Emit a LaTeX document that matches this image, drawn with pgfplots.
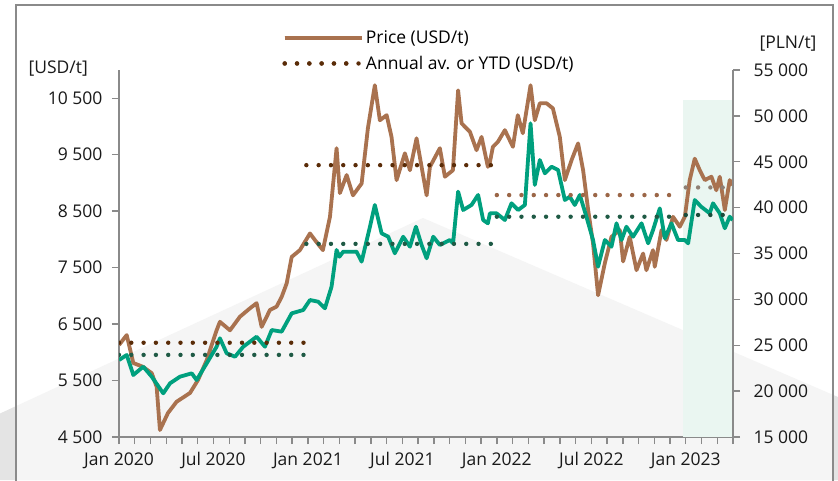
\documentclass[border=0pt]{standalone}
\usepackage{fontspec}
\setmainfont{Open Sans}
\usepackage{pgfplots}
\pgfplotsset{compat=1.18}

\definecolor{pricebrown}{HTML}{A9724F}
\definecolor{plngreen}{HTML}{00A07E}
\definecolor{dotbrown}{HTML}{5A2C08}
\definecolor{dotbrown22}{HTML}{9B6647}
\definecolor{dotgrey}{HTML}{8F8074}
\definecolor{dotgreen}{HTML}{1F5A45}
\definecolor{shade}{HTML}{EAF6F1}
\definecolor{axisgrey}{HTML}{8A8A8A}
\definecolor{bgdark}{HTML}{E4E4E4}

\newcommand{\fs}{\fontsize{17.5}{21}\selectfont}

\pgfplotsset{
  base/.style={
    scale only axis, width=614pt, height=367pt,
    at={(119pt,-437pt)}, anchor=south west,
    xmin=0, xmax=39,
    tick align=outside,
    major tick length=7pt, minor tick length=7pt,
    tick style={line width=1.4pt, axisgrey},
    axis line style={line width=1.4pt, axisgrey},
    tick label style={font=\fs, text=black!90},
    xticklabel style={yshift=-5pt},
    scaled y ticks=false,
    /pgf/number format/fixed,
    /pgf/number format/1000 sep={\ },
    /pgf/number format/assume math mode=true,
  },
  price/.style={pricebrown, line width=3.8pt, line join=round},
  pln/.style={plngreen, line width=3.8pt, line join=round},
  dots/.style={line width=4.4pt, line cap=round, dash pattern=on 0pt off 12.3pt},
}

\begin{document}
\begin{tikzpicture}
\useasboundingbox (0,0) rectangle (838pt,-480pt);
% background shape and frame
\fill[bgdark] (0pt,-413.5pt) -- (423pt,-218pt) -- (838pt,-397pt) -- (838pt,-480pt) -- (0pt,-480pt) -- cycle;
\fill[white, opacity=0.63] (16pt,-5pt) rectangle (833pt,-480pt);
\draw[axisgrey, line width=1.2pt] (16pt,-490pt) -- (16pt,-5pt) -- (833pt,-5pt) -- (833pt,-490pt);

% left axis: price in USD/t
\begin{axis}[base,
  axis x line*=bottom, axis y line*=left,
  ymin=4500, ymax=11000, ytick={4500,5500,...,10500},
  yticklabel style={xshift=-6pt},
  xtick={0,6,...,36},
  xticklabels={Jan 2020, Jul 2020, Jan 2021, Jul 2021, Jan 2022, Jul 2022, Jan 2023},
  minor xtick={1,...,39},
  ylabel={[USD/t]},
  every axis y label/.style={at={(axis description cs:-0.099,1.005)}, anchor=center, font=\fs, text=black!90},
]
\addplot[draw=none, fill=shade] coordinates {(35.8,4500) (39,4500) (39,10460) (35.8,10460)} -- cycle;
\addplot[price] coordinates {
(0,6130) (0.49,6305) (0.91,5810) (1.52,5744) (2.08,5630) (2.39,5390) (2.60,4624)
(3.11,4925) (3.66,5125) (4.51,5280) (5.02,5510) (5.57,5860) (6.20,6390) (6.41,6540)
(7.05,6390) (7.68,6630) (8.32,6780) (8.74,6870) (9.06,6450) (9.59,6750) (10.01,6810)
(10.33,6980) (10.65,7220) (10.97,7690) (11.49,7810) (12.13,8105) (12.44,7990)
(12.95,7810) (13.40,8400) (13.82,9615) (14.03,8820) (14.46,9140) (14.86,8780)
(15.41,8990) (15.81,9970) (16.25,10730) (16.57,10110) (17.0,10200) (17.31,9815)
(17.63,9050) (18.16,9525) (18.48,9225) (18.9,9790) (19.22,9285) (19.54,8780)
(19.75,9285) (20.38,9615) (20.70,9110) (21.21,9225) (21.54,10640) (21.76,10055)
(22.29,9905) (22.71,9580) (23.03,9815) (23.43,9285) (23.56,9370) (23.75,9640)
(24.06,9725) (24.51,9935) (25.02,9640) (25.33,10200) (25.65,9880) (26.14,10730)
(26.41,10110) (26.73,10410) (27.16,10410) (27.56,10320) (28.0,9815) (28.32,9050)
(28.74,9400) (29.16,9700) (29.48,9225) (29.80,8520) (30.11,7930) (30.43,7010)
(30.86,7580) (31.28,8045) (31.81,8165) (32.02,7610) (32.44,8045) (32.87,7455)
(33.29,7750) (33.50,7455) (33.92,7810) (34.03,7515) (34.46,8165) (34.77,7990)
(35.19,8400) (35.62,8225) (35.94,8400) (36.25,9050) (36.57,9430) (36.89,9225)
(37.21,9050) (37.63,9110) (37.94,8870) (38.16,9110) (38.48,8520) (38.79,9050) (38.98,8960)
};
\end{axis}

% right axis: price in PLN/t
\begin{axis}[base,
  axis x line=none, axis y line*=right,
  ymin=15000, ymax=55000, ytick={15000,20000,...,55000},
  yticklabel style={xshift=10pt},
  ylabel={[PLN/t]},
  every axis y label/.style={at={(axis description cs:1.0896,1.071)}, anchor=center, font=\fs, text=black!90},
]
\addplot[pln] coordinates {
(0,23390) (0.49,23940) (0.91,21760) (1.54,22665) (2.08,21575) (2.81,19760) (3.24,20850)
(3.87,21575) (4.62,21940) (4.93,21210) (5.57,23030) (6.20,24840) (6.41,25760)
(6.84,24120) (7.37,23750) (7.89,24840) (8.74,25930) (9.27,24840) (9.70,26660)
(10.33,26480) (10.97,28480) (11.70,28840) (12.13,29930) (12.65,29750) (13.08,29030)
(13.50,31380) (13.82,35380) (14.0,34650) (14.24,35200) (15.09,35200) (15.41,34110)
(15.94,37920) (16.25,40290) (16.68,37200) (17.10,36830) (17.52,35020) (18.05,36830)
(18.48,35740) (18.86,37920) (19.22,35930) (19.54,34480) (19.96,36830) (20.38,35930)
(21.02,36470) (21.22,36110) (21.54,41740) (21.86,39740) (22.39,40290) (22.81,41380)
(23.13,38650) (23.43,38290) (23.56,39380) (23.98,39380) (24.51,38650) (24.93,40470)
(25.35,39740) (25.78,40290) (26.14,49190) (26.41,42470) (26.73,45190) (27.05,43740)
(27.47,44460) (27.89,44100) (28.32,40830) (28.63,41190) (28.95,40290) (29.27,41380)
(29.69,39010) (30.11,36470) (30.43,33560) (30.86,36470) (31.28,35740) (31.6,38290)
(31.92,36470) (32.23,37920) (32.65,36830) (33.19,38290) (33.61,36110) (33.92,37560)
(34.35,39920) (34.67,36650) (35.09,38290) (35.51,36470) (35.94,36470) (36.15,36110)
(36.57,40830) (36.98,40100) (37.52,39380) (37.73,40470) (38.16,39380) (38.48,37750)
(38.79,39010) (38.98,38650)
};
\addplot[dots, dotgreen] coordinates {(0,23950) (11.8,23950)};
\addplot[dots, dotgreen] coordinates {(11.9,36050) (23.9,36050)};
\addplot[dots, dotgreen] coordinates {(24.0,39010) (35.7,39010)};
\addplot[dots, dotgreen!85!black] coordinates {(36.0,39200) (38.4,39200)};
\end{axis}

% annual averages in USD/t and legend
\begin{axis}[base, hide axis,
  ymin=4500, ymax=11000,
  legend style={at={(axis description cs:0.266,1.113)}, anchor=north west,
    draw=none, fill=none, font=\fs, row sep=7pt, inner sep=0pt},
  legend cell align=left,
  legend image code/.code={\draw[#1] (0pt,0pt) -- (68pt,0pt); \path (0pt,0pt) -- (77pt,0pt);},
]
\addlegendimage{price}
\addlegendentry{Price (USD/t)}
\addplot[dots, dotbrown] coordinates {(0,6170) (11.8,6170)};
\addlegendentry{Annual av. or YTD (USD/t)}
\addplot[dots, dotbrown, forget plot] coordinates {(11.9,9315) (23.9,9315)};
\addplot[dots, dotbrown22, forget plot] coordinates {(24.0,8785) (35.7,8785)};
\addplot[dots, dotgrey, forget plot] coordinates {(36.0,8920) (38.4,8920)};
\end{axis}
\end{tikzpicture}
\end{document}
